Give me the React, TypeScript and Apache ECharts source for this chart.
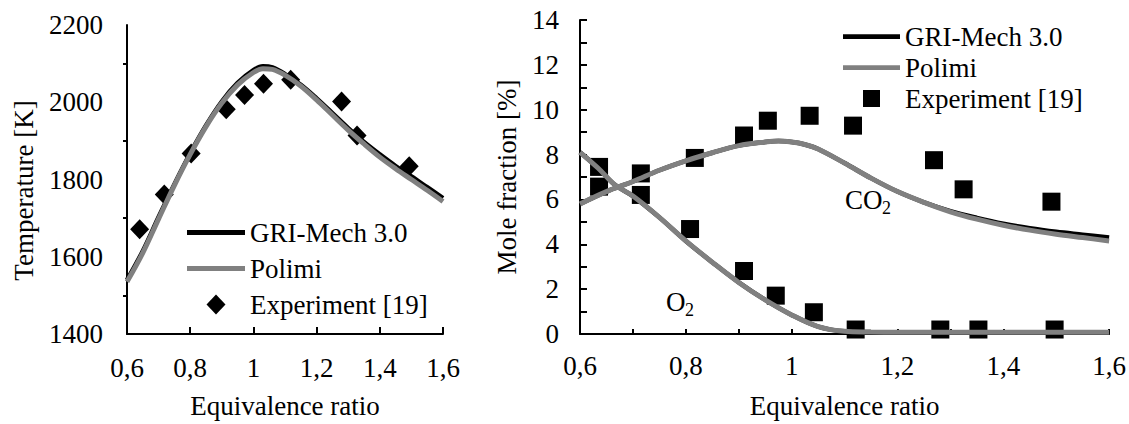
import React, { useEffect, useRef } from "react";
import * as echarts from "echarts";

// ---------- data ----------
// Left: adiabatic flame temperature
const phiT = [0.6, 0.65, 0.7, 0.75, 0.8, 0.85, 0.9, 0.95, 1.0, 1.03, 1.06, 1.1, 1.15, 1.2, 1.25, 1.3, 1.35, 1.4, 1.45, 1.5, 1.55, 1.6];
const tGri = [1540, 1615, 1703, 1788, 1868, 1940, 2002, 2050, 2083, 2093, 2090, 2073, 2045, 2010, 1972, 1933, 1897, 1865, 1835, 1808, 1780, 1752];
const tPolimi = [1535, 1610, 1698, 1785, 1865, 1937, 1998, 2045, 2077, 2087, 2085, 2070, 2042, 2006, 1967, 1928, 1892, 1858, 1828, 1800, 1772, 1743];
const phiTExp = [0.64, 0.718, 0.803, 0.914, 0.972, 1.032, 1.118, 1.279, 1.328, 1.493];
const tExp = [1671, 1761, 1867, 1982, 2019, 2048, 2058, 2002, 1914, 1834];

// Right: mole fractions
const phiCO2 = [0.6, 0.65, 0.7, 0.75, 0.8, 0.85, 0.9, 0.95, 0.975, 1.0, 1.025, 1.05, 1.1, 1.15, 1.2, 1.25, 1.3, 1.35, 1.4, 1.45, 1.5, 1.55, 1.6];
const co2Gri = [5.8, 6.35, 6.8, 7.3, 7.72, 8.08, 8.4, 8.56, 8.6, 8.56, 8.45, 8.25, 7.62, 6.95, 6.35, 5.87, 5.48, 5.18, 4.92, 4.72, 4.56, 4.43, 4.3];
const co2Polimi = [5.8, 6.35, 6.8, 7.3, 7.72, 8.08, 8.4, 8.56, 8.6, 8.56, 8.45, 8.25, 7.62, 6.95, 6.35, 5.87, 5.45, 5.12, 4.85, 4.63, 4.45, 4.3, 4.15];
const phiO2 = [0.6, 0.634, 0.666, 0.7, 0.75, 0.8, 0.85, 0.9, 0.95, 1.0, 1.05, 1.1, 1.15, 1.2, 1.3, 1.4, 1.5, 1.6];
const o2Gri = [8.1, 7.4, 6.65, 6.15, 5.2, 4.15, 3.2, 2.3, 1.52, 0.85, 0.33, 0.12, 0.09, 0.08, 0.08, 0.08, 0.08, 0.08];
const o2Polimi = [8.1, 7.4, 6.65, 6.15, 5.2, 4.15, 3.2, 2.3, 1.52, 0.85, 0.33, 0.12, 0.09, 0.08, 0.08, 0.08, 0.08, 0.08];
const phiCO2Exp = [0.636, 0.715, 0.817, 0.91, 0.955, 1.034, 1.116, 1.269, 1.325, 1.491];
const co2Exp = [6.57, 7.16, 7.85, 8.85, 9.51, 9.73, 9.29, 7.75, 6.45, 5.9];
const phiO2Exp = [0.636, 0.715, 0.808, 0.91, 0.97, 1.042, 1.121, 1.281, 1.353, 1.497];
const o2Exp = [7.45, 6.2, 4.68, 2.81, 1.71, 0.97, 0.2, 0.2, 0.2, 0.2];

const xTickValues = [0.6, 0.8, 1.0, 1.2, 1.4, 1.6];
const xTickLabels = ["0,6", "0,8", "1", "1,2", "1,4", "1,6"];
const tempTickLabels = ["1400", "1600", "1800", "2000", "2200"];
const moleTickLabels = ["0", "2", "4", "6", "8", "10", "12", "14"];

const NAME_GRI = "GRI-Mech 3.0";
const NAME_POLIMI = "Polimi";
const NAME_EXP = "Experiment [19]";

const FONT = "Liberation Serif";
const BLACK = "#000000";
const GRAY = "#808080";
const LINE_ICON = "path://M0,0 L60,0 L60,5 L0,5 Z";
// legend markers, padded to the legend item box so they are not stretched
const DIAMOND_ICON = "path://M0,0 M58,20 M19.5,10 L29,0 L38.5,10 L29,20 Z";
const SQUARE_ICON = "path://M0,0 M57,17 M20,0 L37,0 L37,17 L20,17 Z";

const zip = (xs: number[], ys: number[]) => xs.map((x, i) => [x, ys[i]]);

const xLabel = (v: number) => {
  const i = xTickValues.findIndex((t) => Math.abs(t - v) < 1e-6);
  return i >= 0 ? xTickLabels[i] : "";
};

const textBase = { fontFamily: FONT, fontSize: 27, color: BLACK };
const axisLine = { show: true, lineStyle: { color: BLACK, width: 2 } };

export default function App() {
  const ref = useRef<HTMLDivElement>(null);
  useEffect(() => {
    if (!ref.current) return;
    const chart = echarts.init(ref.current, undefined, { renderer: "svg" });
    const lineSeries = (name: string, xi: number, xs: number[], ys: number[], color: string, width: number) => ({
      type: "line",
      name,
      xAxisIndex: xi,
      yAxisIndex: xi,
      data: zip(xs, ys),
      symbol: "none",
      smooth: 0.35,
      lineStyle: { color, width },
      itemStyle: { color },
      emphasis: { disabled: true },
    });
    const scatterSeries = (xi: number, xs: number[], ys: number[], symbol: string, size: number | number[]) => ({
      type: "scatter",
      name: NAME_EXP,
      xAxisIndex: xi,
      yAxisIndex: xi,
      data: zip(xs, ys),
      symbol,
      symbolSize: size,
      symbolKeepAspect: true,
      itemStyle: { color: BLACK, opacity: 1 },
      emphasis: { disabled: true },
    });
    const legendData = (expIcon: string) => [
      { name: NAME_GRI, icon: LINE_ICON, itemStyle: { color: BLACK } },
      { name: NAME_POLIMI, icon: LINE_ICON, itemStyle: { color: GRAY } },
      { name: NAME_EXP, icon: expIcon, itemStyle: { color: BLACK, opacity: 1 } },
    ];
    chart.setOption({
      animation: false,
      textStyle: { fontFamily: FONT },
      grid: [
        { left: 127, top: 25, width: 316, height: 310 },
        { left: 580, top: 20, width: 530, height: 317 },
      ],
      xAxis: [
        {
          type: "value",
          gridIndex: 0,
          min: 0.6,
          max: 1.6,
          interval: 0.2,
          splitLine: { show: false },
          axisLine,
          axisTick: { show: true, inside: true, length: 7, lineStyle: { color: BLACK, width: 2 } },
          axisLabel: { ...textBase, margin: 20, formatter: xLabel, showMinLabel: true, showMaxLabel: true },
          name: "Equivalence ratio",
          nameLocation: "middle",
          nameGap: 58,
          nameTextStyle: textBase,
        },
        {
          type: "value",
          gridIndex: 1,
          min: 0.6,
          max: 1.6,
          interval: 0.1,
          splitLine: { show: false },
          axisLine,
          axisTick: { show: true, inside: true, length: 5, lineStyle: { color: BLACK, width: 2 } },
          axisLabel: { ...textBase, margin: 18, formatter: xLabel, showMinLabel: true, showMaxLabel: true },
          name: "Equivalence ratio",
          nameLocation: "middle",
          nameGap: 58,
          nameTextStyle: textBase,
        },
      ],
      yAxis: [
        {
          type: "value",
          gridIndex: 0,
          min: 1400,
          max: 2200,
          interval: 200,
          splitLine: { show: false },
          axisLine,
          axisTick: { show: false },
          minorTick: { show: true, splitNumber: 2, length: 4, lineStyle: { color: BLACK, width: 2 } },
          minorSplitLine: { show: false },
          axisLabel: {
            ...textBase,
            margin: 24,
            formatter: (v: number) => tempTickLabels[Math.round((v - 1400) / 200)] ?? "",
          },
          name: "Temperature [K]",
          nameLocation: "middle",
          nameGap: 90,
          nameTextStyle: { ...textBase, padding: [0, 22, 0, 0] },
        },
        {
          type: "value",
          gridIndex: 1,
          min: 0,
          max: 14,
          interval: 1,
          splitLine: { show: false },
          axisLine,
          axisTick: { show: true, inside: true, length: 7, lineStyle: { color: BLACK, width: 2 } },
          axisLabel: {
            ...textBase,
            margin: 21,
            formatter: (v: number) => (Math.round(v) % 2 === 0 ? moleTickLabels[Math.round(v) / 2] : ""),
          },
          name: "Mole fraction [%]",
          nameLocation: "middle",
          nameGap: 60,
          nameTextStyle: textBase,
        },
      ],
      legend: [
        {
          orient: "vertical",
          left: 187,
          top: 219,
          padding: 0,
          itemWidth: 58,
          itemHeight: 20,
          itemGap: 9,
          symbolKeepAspect: true,
          textStyle: textBase,
          selectedMode: false,
          data: legendData(DIAMOND_ICON),
        },
        {
          orient: "vertical",
          left: 843,
          top: 23,
          padding: 0,
          itemWidth: 57,
          itemHeight: 17,
          itemGap: 4,
          symbolKeepAspect: true,
          textStyle: textBase,
          selectedMode: false,
          data: legendData(SQUARE_ICON),
        },
      ],
      graphic: [
        { type: "text", left: 845, top: 186, style: { text: "CO", font: `27px "${FONT}"`, fill: BLACK } },
        { type: "text", left: 882, top: 199, style: { text: "2", font: `18px "${FONT}"`, fill: BLACK } },
        { type: "text", left: 666, top: 288, style: { text: "O", font: `27px "${FONT}"`, fill: BLACK } },
        { type: "text", left: 685, top: 301, style: { text: "2", font: `18px "${FONT}"`, fill: BLACK } },
      ],
      series: [
        lineSeries(NAME_GRI, 0, phiT, tGri, BLACK, 4.5),
        lineSeries(NAME_POLIMI, 0, phiT, tPolimi, GRAY, 5),
        scatterSeries(0, phiTExp, tExp, "diamond", [19, 20]),
        lineSeries(NAME_GRI, 1, phiCO2, co2Gri, BLACK, 4.5),
        lineSeries(NAME_GRI, 1, phiO2, o2Gri, BLACK, 4.5),
        lineSeries(NAME_POLIMI, 1, phiCO2, co2Polimi, GRAY, 5),
        lineSeries(NAME_POLIMI, 1, phiO2, o2Polimi, GRAY, 5),
        scatterSeries(1, phiCO2Exp, co2Exp, "rect", 18),
        scatterSeries(1, phiO2Exp, o2Exp, "rect", 18),
      ],
    });
    return () => chart.dispose();
  }, []);
  return (
    <div
      ref={ref}
      style={{ position: "fixed", left: 0, top: 0, width: 1129, height: 424, background: "#ffffff" }}
    />
  );
}
